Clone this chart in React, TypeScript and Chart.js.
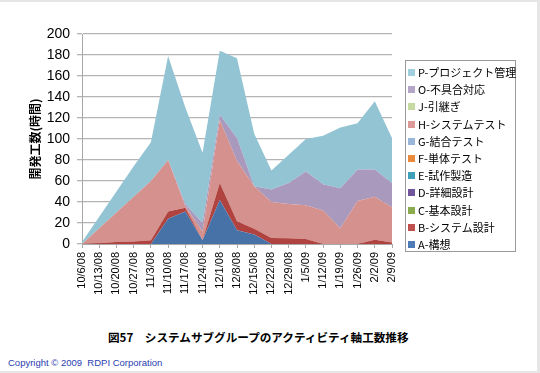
import React, { useEffect, useRef } from "react";
import { Chart, registerables } from "chart.js";

Chart.register(...registerables);

const categories = [
  "10/6/08", "10/13/08", "10/20/08", "10/27/08", "11/3/08", "11/10/08", "11/17/08",
  "11/24/08", "12/1/08", "12/8/08", "12/15/08", "12/22/08", "12/29/08", "1/5/09",
  "1/12/09", "1/19/09", "1/26/09", "2/2/09", "2/9/09",
];

const seriesA = [0, 0, 0, 0, 0, 24, 31, 3.5, 42, 13, 9, 0, 0, 0, 0, 0, 0, 0, 0];
const seriesB = [0, 1, 2, 2.5, 3.5, 7, 3.5, 0, 16, 8.6, 5.6, 5.7, 5.4, 4.8, 0, 0, 0, 4, 1.5];
const seriesC = [0, 0, 0, 0, 0, 0, 0, 0, 0, 0, 0, 0, 0, 0, 0, 0, 0, 0, 0];
const seriesD = [0, 0, 0, 0, 0, 0, 0, 0, 0, 0, 0, 0, 0, 0, 0, 0, 0, 0, 0];
const seriesE = [0, 0, 0, 0, 0, 0, 0, 0, 0, 0, 0, 0, 0, 0, 0, 0, 0, 0, 0];
const seriesF = [0, 0, 0, 0, 0, 0, 0, 0, 0, 0, 0, 0, 0, 0, 0, 0, 0, 0, 0];
const seriesG = [0, 0, 0, 0, 0, 0, 0, 0, 0, 0, 0, 0, 0, 0, 0, 0, 0, 0, 0];
const seriesH = [0, 14, 28, 42.5, 56.5, 49, 1.5, 8.5, 60, 57.4, 40.4, 34.3, 32.6, 32.2, 32, 15, 41, 41, 33.5];
const seriesJ = [0, 0, 0, 0, 0, 0, 0, 0, 0, 0, 0, 0, 0, 0, 0, 0, 0, 0, 0];
const seriesO = [0, 0, 0, 0, 0, 0, 2, 8, 5, 22, 0, 12, 20, 32, 25, 38, 30, 26, 23];
const seriesP = [2, 11, 20, 29, 37, 99, 92, 67, 61, 76, 50, 18, 27, 31, 46, 58, 44, 65, 43];

const seriesNames = [
  "A-構想", "B-システム設計", "C-基本設計", "D-詳細設計", "E-試作製造", "F-単体テスト",
  "G-結合テスト", "H-システムテスト", "J-引継ぎ", "O-不具合対応", "P-プロジェクト管理",
];
const seriesValues = [seriesA, seriesB, seriesC, seriesD, seriesE, seriesF, seriesG, seriesH, seriesJ, seriesO, seriesP];
const areaColors = [
  "#4672a8", "#b0433f", "#7fa244", "#6b4f8f", "#3a98ad", "#e5873a",
  "#98b3d6", "#d4918e", "#c3d69b", "#a99abd", "#93c4d4",
];
const legendColors = [
  "#4f7cb8", "#c0504d", "#8aac4e", "#70559a", "#40a0b8", "#ec8a3c",
  "#9ab6da", "#dc9a98", "#c6d9a0", "#b3a6c9", "#a0cfde",
];

const yTicks = { min: 0, max: 200, step: 20 };
const yTitle = "開発工数(時間)";
const chartTitle = "図57　システムサブグループのアクティビティ軸工数推移";
const copyright = "Copyright © 2009  RDPI Corporation";

export default function App() {
  const canvasRef = useRef<HTMLCanvasElement | null>(null);

  useEffect(() => {
    if (!canvasRef.current) return;
    const chart = new Chart(canvasRef.current, {
      type: "line",
      data: {
        labels: categories,
        datasets: seriesValues.map((vals, i) => ({
          label: seriesNames[i],
          data: vals,
          backgroundColor: areaColors[i],
          borderColor: areaColors[i],
          borderWidth: 0,
          pointRadius: 0,
          pointHoverRadius: 0,
          tension: 0,
          fill: i === 0 ? "origin" : "-1",
        })),
      },
      options: {
        animation: false,
        responsive: false,
        maintainAspectRatio: false,
        layout: { padding: { top: 34, right: 148, left: 0, bottom: 0 } },
        plugins: {
          legend: { display: false },
          tooltip: { enabled: false },
          title: { display: false },
        },
        scales: {
          x: {
            offset: false,
            grid: {
              display: true,
              drawOnChartArea: false,
              drawTicks: true,
              tickLength: 4,
              color: "#a8a8a8",
            },
            border: { display: true, color: "#a8a8a8" },
            ticks: {
              minRotation: 90,
              maxRotation: 90,
              autoSkip: false,
              padding: 4,
              color: "#000",
              font: { family: "'Liberation Sans', Arial, sans-serif", size: 11 },
            },
            afterFit: (scale: any) => {
              scale.height = 76;
            },
          },
          y: {
            stacked: true,
            min: yTicks.min,
            max: yTicks.max,
            ticks: {
              stepSize: yTicks.step,
              padding: 7,
              color: "#000",
              font: { family: "'Liberation Sans', Arial, sans-serif", size: 14 },
            },
            grid: { color: "#b4b4b4", lineWidth: 1.3, tickLength: 5 },
            border: { display: true, color: "#a8a8a8" },
            title: {
              display: true,
              text: yTitle,
              color: "#000",
              padding: { top: 28, bottom: 0 },
              font: { family: "'Noto Sans CJK JP', sans-serif", size: 12, weight: "bold" },
            },
            afterFit: (scale: any) => {
              scale.width = 82;
            },
          },
        },
      },
    });
    return () => chart.destroy();
  }, []);

  return (
    <div
      style={{
        position: "fixed",
        left: 0,
        top: 0,
        width: 540,
        height: 373,
        background: "#fff",
        boxSizing: "border-box",
        borderTop: "2px solid #e6e6e6",
        borderRight: "3px solid #e6e6e6",
        borderBottom: "2px solid #e6e6e6",
        overflow: "hidden",
      }}
    >
      <canvas
        ref={canvasRef}
        width={540}
        height={320}
        style={{ position: "absolute", left: 0, top: -2, width: 540, height: 320 }}
      />
      <div
        style={{
          position: "absolute",
          left: 405,
          top: 58,
          width: 109,
          height: 190,
          border: "1px solid #9a9a9a",
          background: "#fff",
          fontFamily: "'Noto Sans CJK JP', sans-serif",
          fontSize: 11,
          color: "#000",
        }}
      >
        {seriesNames
          .map((name, i) => ({ name, i }))
          .reverse()
          .map(({ name, i }, k) => (
            <div
              key={name}
              style={{
                position: "absolute",
                left: 2,
                top: 3 + k * 17.2,
                height: 17,
                lineHeight: "17px",
                whiteSpace: "nowrap",
                display: "flex",
                alignItems: "center",
              }}
            >
              <span
                style={{
                  display: "inline-block",
                  width: 7,
                  height: 7,
                  background: legendColors[i],
                  marginRight: 3,
                }}
              />
              <span>{name}</span>
            </div>
          ))}
      </div>
      <div
        style={{
          position: "absolute",
          left: 108,
          top: 326,
          fontFamily: "'Noto Sans CJK JP', sans-serif",
          fontWeight: "bold",
          fontSize: 11.6,
          lineHeight: "18px",
          color: "#000",
          whiteSpace: "nowrap",
        }}
      >
        {chartTitle}
      </div>
      <div
        style={{
          position: "absolute",
          left: 8,
          top: 355,
          fontFamily: "'Liberation Sans', Arial, sans-serif",
          fontSize: 9.5,
          lineHeight: "12px",
          color: "#2b40b0",
          whiteSpace: "pre",
        }}
      >
        {copyright}
      </div>
    </div>
  );
}
